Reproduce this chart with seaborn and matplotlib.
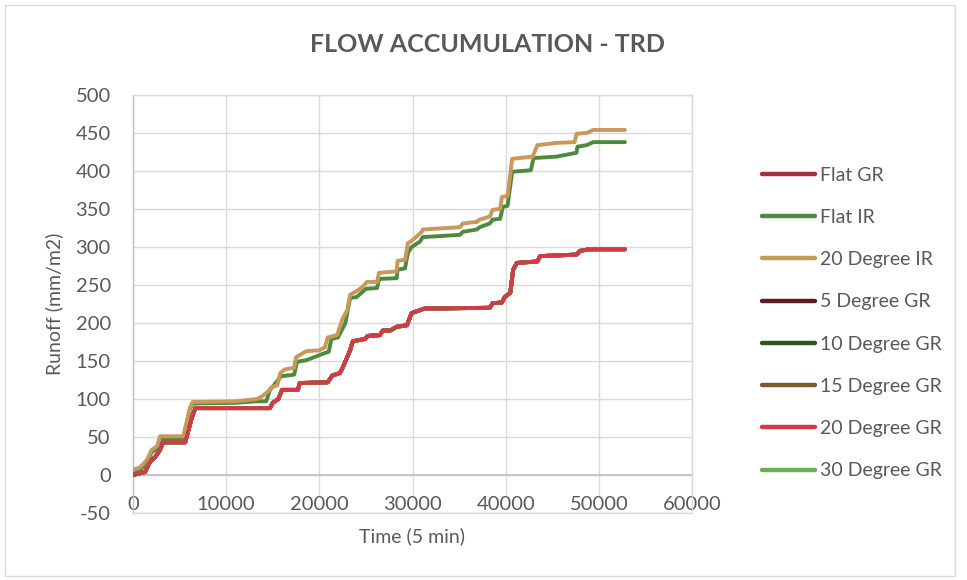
import matplotlib
matplotlib.use("Agg")
import matplotlib.pyplot as plt
from matplotlib.patches import Rectangle
from matplotlib.lines import Line2D
import seaborn as sns
import pandas as pd

# ---- data -------------------------------------------------------------
# cumulative runoff of the green-roof (GR) configurations
gr_time = [0, 1300, 1800, 2400, 2900, 3200, 5600, 6300, 6700, 14700, 15000,
           15600, 16000, 17700, 17900, 20900, 21400, 22200, 22500, 23300,
           23600, 24900, 25200, 26500, 26800, 27600, 28300, 29400, 29900,
           31300, 38300, 38600, 39600, 39900, 40500, 40800, 41200, 43400,
           43700, 47600, 48000, 49000, 49300, 52800]
gr_runoff = [0, 4, 17, 24, 33, 43, 43, 75, 88, 88, 95,
             100, 112, 112, 121, 122, 131, 134, 141, 164,
             176, 179, 183, 184, 190, 190, 195, 197, 213,
             219, 220, 226, 227, 234, 240, 270, 279, 281,
             288, 290, 295, 297, 297, 297]

# cumulative runoff of the flat impervious roof (IR)
flat_ir_time = [0, 750, 1500, 2000, 2600, 2900, 5400, 5800, 6100, 6400, 11000,
                13300, 14300, 14700, 15900, 17300, 17600, 18600, 20500, 21000,
                21300, 22000, 22800, 23300, 24000, 25000, 26200, 26400, 28300,
                28400, 29200, 29500, 29900, 30800, 31100, 35100, 35400, 36900,
                37200, 38300, 38600, 39400, 39700, 40200, 40700, 42700, 43000,
                45500, 47600, 47700, 48700, 49400, 52800]
flat_ir_runoff = [1, 6, 17, 30, 35, 48, 48, 70, 86, 94, 95,
                  97, 97, 112, 130, 132, 149, 151, 160, 162,
                  179, 181, 200, 233, 234, 245, 246, 258, 259,
                  270, 272, 292, 300, 307, 313, 316, 320, 323,
                  326, 331, 336, 337, 353, 354, 399, 401, 417,
                  419, 424, 432, 434, 438, 438]

# cumulative runoff of the 20 degree impervious roof (IR)
deg20_ir_time = [0, 750, 1500, 2000, 2600, 2900, 5400, 5800, 6100, 6400, 11000,
                 13300, 13800, 14500, 14900, 15500, 15800, 16300, 17300, 17500,
                 18600, 20000, 20600, 20900, 21900, 22500, 23000, 23300, 24000,
                 24600, 25100, 26200, 26400, 28300, 28400, 29200, 29500, 29900,
                 31000, 31100, 35100, 35400, 36900, 37200, 38300, 38600, 39400,
                 39600, 40200, 40700, 42900, 43400, 45500, 47400, 47600, 48700,
                 49400, 52800]
deg20_ir_runoff = [7, 10, 20, 33, 38, 51, 51, 72, 88, 96, 97,
                   100, 103, 110, 116, 118, 134, 139, 141, 155,
                   163, 164, 168, 181, 184, 206, 217, 237, 242,
                   247, 254, 254, 266, 268, 282, 283, 305, 308,
                   320, 323, 326, 331, 333, 336, 340, 349, 350,
                   366, 367, 416, 419, 434, 437, 438, 449, 450,
                   454, 454]

series_names = ["Flat GR", "Flat IR", "20 Degree IR", "5 Degree GR",
                "10 Degree GR", "15 Degree GR", "20 Degree GR", "30 Degree GR"]
series_colors = ["#A52F3B", "#4E8A3E", "#C9995A", "#5E1A22",
                 "#2F5226", "#7B5A2E", "#D13B47", "#6AAF55"]
series_data = {
    "Flat GR": (gr_time, gr_runoff),
    "Flat IR": (flat_ir_time, flat_ir_runoff),
    "20 Degree IR": (deg20_ir_time, deg20_ir_runoff),
    "5 Degree GR": (gr_time, gr_runoff),
    "10 Degree GR": (gr_time, gr_runoff),
    "15 Degree GR": (gr_time, gr_runoff),
    "20 Degree GR": (gr_time, gr_runoff),
    "30 Degree GR": (gr_time, gr_runoff),
}
# stacking order of the lines (later = on top)
draw_order = ["Flat GR", "5 Degree GR", "10 Degree GR", "15 Degree GR",
              "30 Degree GR", "Flat IR", "20 Degree IR", "20 Degree GR"]

x_ticks = [0, 10000, 20000, 30000, 40000, 50000, 60000]
y_ticks = list(range(-50, 501, 50))

# ---- style ------------------------------------------------------------
sns.set_theme(style="white")
plt.rcParams["font.family"] = ["Lato", "DejaVu Sans"]
text_color = "#595959"
grid_color = "#D9D9D9"

fig = plt.figure(figsize=(9.67, 5.80), dpi=100)
fig.patch.set_facecolor("white")
fig.patches.append(Rectangle((5 / 967, 4 / 580), 950 / 967, 571 / 580,
                             transform=fig.transFigure, fill=False,
                             edgecolor=grid_color, lw=1.0))

ax = fig.add_axes([133 / 967, 1 - 513 / 580, (692 - 133) / 967, (513 - 95) / 580])

colors = dict(zip(series_names, series_colors))
for z, name in enumerate(draw_order):
    t, v = series_data[name]
    df = pd.DataFrame({"time": t, "runoff": v})
    sns.lineplot(data=df, x="time", y="runoff", ax=ax, color=colors[name],
                 lw=2.8, estimator=None, sort=False, zorder=3 + z,
                 solid_capstyle="round", solid_joinstyle="round")

ax.set_xlim(0, 60000)
ax.set_ylim(-50, 500)
ax.set_xticks(x_ticks)
ax.set_yticks(y_ticks)
ax.set_xticklabels([str(v) for v in x_ticks])
ax.set_yticklabels([str(v) for v in y_ticks])
ax.grid(True, color=grid_color, lw=1.0)
ax.set_axisbelow(True)
ax.axhline(0, color="#BFBFBF", lw=1.2, zorder=2)
for side, sp in ax.spines.items():
    sp.set_color(grid_color)
    sp.set_linewidth(1.0)
ax.spines["left"].set_color("#BFBFBF")
ax.tick_params(axis="both", length=0, labelsize=14.5, labelcolor=text_color)
ax.tick_params(axis="y", pad=16)
ax.tick_params(axis="x", pad=-12)
for lbl in ax.get_xticklabels():
    lbl.set_bbox(dict(facecolor="white", edgecolor="none", pad=0.5))
ax.set_xlabel("")
ax.set_ylabel("")

fig.text(487 / 967, 1 - 45 / 580, "FLOW ACCUMULATION - TRD", ha="center",
         va="center", fontsize=18, fontweight="bold", color=text_color)
fig.text(412 / 967, 1 - 536 / 580, "Time (5 min)", ha="center", va="center",
         fontsize=14, color=text_color)
fig.text(54 / 967, 1 - 304 / 580, "Runoff (mm/m2)", ha="center", va="center",
         rotation=90, fontsize=14, color=text_color)

handles = [Line2D([0], [0], color=c, lw=3.2, solid_capstyle="round")
           for c in series_colors]
leg = fig.legend(handles, series_names, loc="center left",
                 bbox_to_anchor=(758 / 967, 1 - 323 / 580), frameon=False,
                 fontsize=14, labelcolor=text_color, handlelength=2.75,
                 handletextpad=0.25, labelspacing=1.3, borderpad=0.2,
                 borderaxespad=0)

fig.savefig("out.png", dpi=100)
